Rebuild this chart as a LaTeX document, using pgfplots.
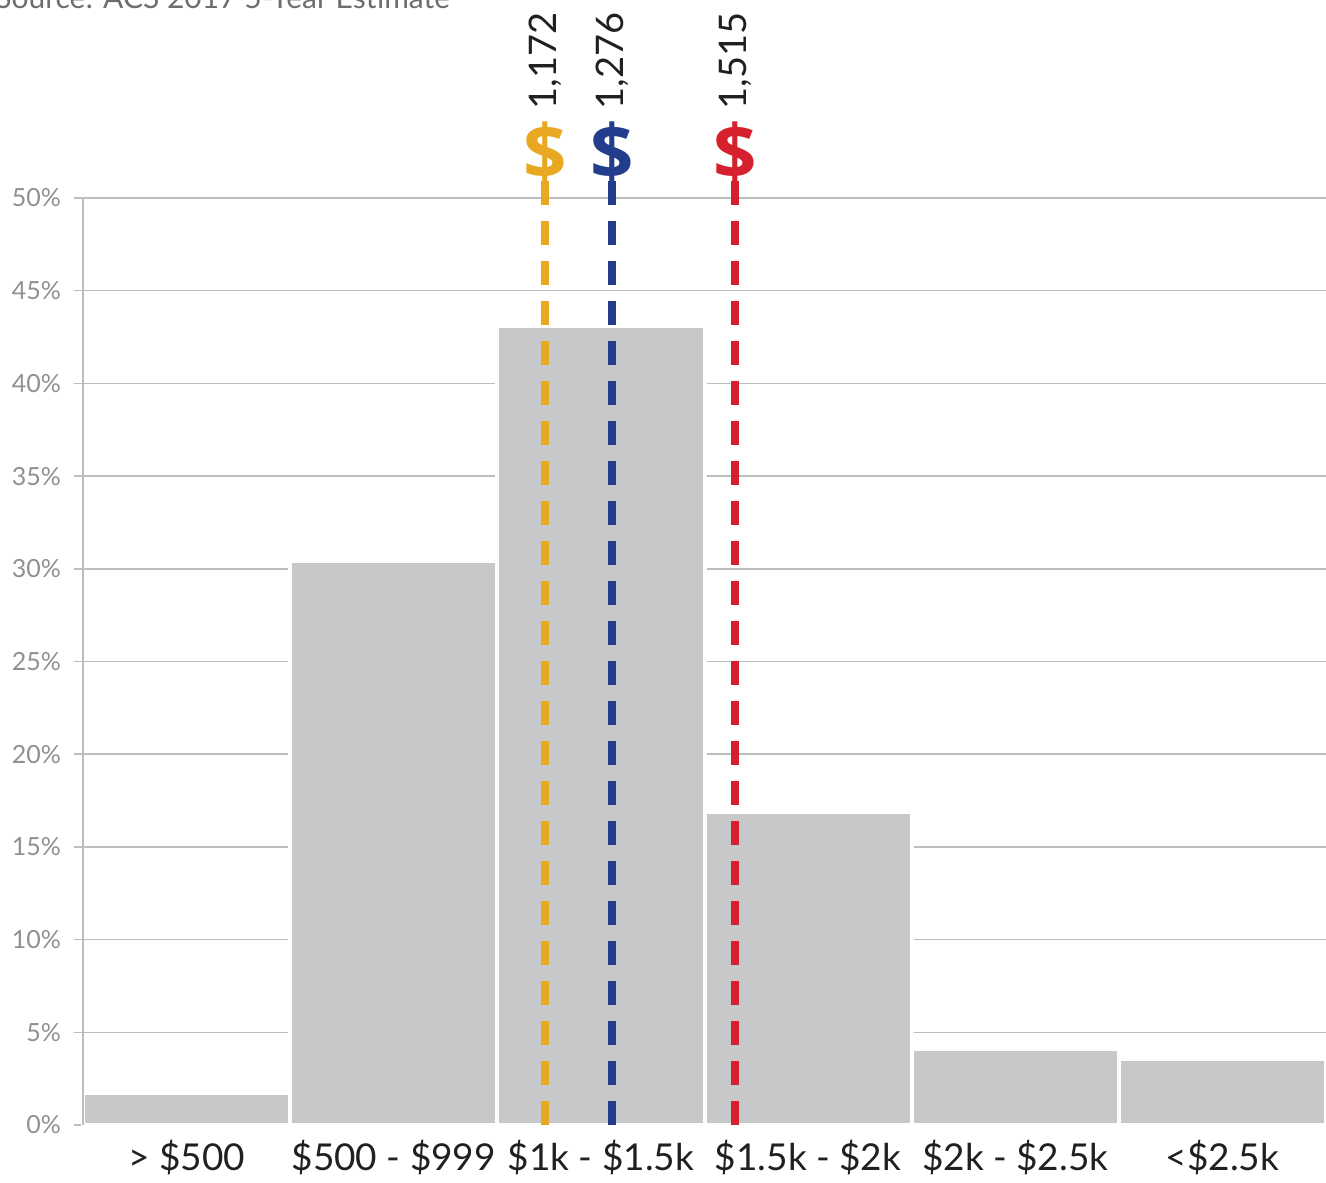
\documentclass[border=0pt]{standalone}
\usepackage{pgfplots}
\pgfplotsset{compat=1.18}
\usepackage{fontspec}
\setmainfont{Lato}
\newfontfamily\dollarfont{Open Sans}
\usetikzlibrary{calc}

\definecolor{bargray}{HTML}{C7C8CA}
\definecolor{gridgray}{HTML}{BDBEC0}
\definecolor{ticktext}{HTML}{8E9093}
\definecolor{srcgray}{HTML}{6D6E71}
\definecolor{inkblack}{HTML}{231F20}
\definecolor{medorange}{HTML}{E9A821}
\definecolor{medblue}{HTML}{233C8C}
\definecolor{medred}{HTML}{D5202D}

\begin{document}
\begin{tikzpicture}
\begin{axis}[
  name=ax,
  scale only axis,
  width=621.5pt, height=463.5pt,
  xmin=-0.5, xmax=5.5,
  ymin=0, ymax=50,
  clip=false,
  axis y line*=left,
  axis x line*=bottom,
  x axis line style={draw=none},
  y axis line style={gridgray, line width=0.75pt},
  xtick={0,1,2,3,4,5},
  xticklabels={{> \$500},{\$500 - \$999},{\$1k - \$1.5k},{\$1.5k - \$2k},{\$2k - \$2.5k},{<\$2.5k}},
  xtick style={draw=none},
  xticklabel style={font=\fontsize{18.5}{20}\selectfont, text=inkblack, anchor=north, yshift=0.5pt},
  ytick={0,5,...,50},
  yticklabels={0\%,5\%,10\%,15\%,20\%,25\%,30\%,35\%,40\%,45\%,50\%},
  tick align=outside,
  major tick length=4.5pt,
  ytick style={gridgray, line width=0.75pt},
  yticklabel style={font=\fontsize{12.5}{14}\selectfont, text=ticktext, xshift=-3pt},
  ymajorgrids,
  grid style={gridgray, line width=0.75pt},
]
% share of renter households by gross rent bracket
\addplot[ybar, bar width=1, fill=bargray, draw=white, line width=2pt]
  coordinates {(0,1.7) (1,30.4) (2,43.1) (3,16.9) (4,4.1) (5,3.55)};
% keep the value axis line above the bar outlines
\addplot[gridgray, line width=0.75pt] coordinates {(-0.5,0) (-0.5,50)};

% median gross rent markers
\addplot[medorange, line width=4pt, dash pattern=on 12pt off 8pt] coordinates {(1.73,0) (1.73,51)};
\addplot[medblue,   line width=4pt, dash pattern=on 12pt off 8pt] coordinates {(2.053,0) (2.053,51)};
\addplot[medred,    line width=4pt, dash pattern=on 12pt off 8pt] coordinates {(2.647,0) (2.647,51)};

\node[text=medorange, font=\fontsize{38}{40}\dollarfont\bfseries] at (axis cs:1.73,52.45) {\$};
\node[text=medblue,   font=\fontsize{38}{40}\dollarfont\bfseries] at (axis cs:2.053,52.45) {\$};
\node[text=medred,    font=\fontsize{38}{40}\dollarfont\bfseries] at (axis cs:2.647,52.45) {\$};

\node[rotate=90, text=inkblack, font=\fontsize{19}{21}\selectfont] at (axis cs:1.73,57.4) {1,172};
\node[rotate=90, text=inkblack, font=\fontsize{19}{21}\selectfont] at (axis cs:2.053,57.4) {1,276};
\node[rotate=90, text=inkblack, font=\fontsize{19}{21}\selectfont] at (axis cs:2.647,57.4) {1,515};

\node[anchor=base west, text=srcgray, font=\fontsize{15}{17}\selectfont, inner sep=0pt] at (axis cs:-0.925,60.2) {Source: ACS 2017 5-Year Estimate};
\end{axis}
\pgfresetboundingbox
\path[use as bounding box] ($(ax.south west)+(-41.5pt,-28.5pt)$) rectangle ($(ax.north east)+(0,99pt)$);
\end{tikzpicture}
\end{document}
